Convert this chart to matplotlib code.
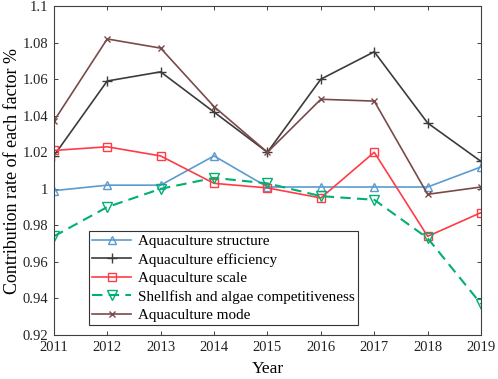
import matplotlib
matplotlib.use("Agg")
import matplotlib.pyplot as plt

# ---------------------------------------------------------------------------
# Data
# ---------------------------------------------------------------------------
years = [2011, 2012, 2013, 2014, 2015, 2016, 2017, 2018, 2019]
structure = [0.999, 1.002, 1.002, 1.018, 1.001, 1.001, 1.001, 1.001, 1.012]
efficiency = [1.018, 1.059, 1.064, 1.042, 1.020, 1.060, 1.075, 1.036, 1.015]
scale = [1.021, 1.023, 1.018, 1.003, 1.0005, 0.995, 1.020, 0.974, 0.987]
shellfish = [0.974, 0.990, 1.000, 1.006, 1.003, 0.996, 0.994, 0.973, 0.937]
mode = [1.037, 1.082, 1.077, 1.045, 1.020, 1.049, 1.048, 0.997, 1.001]

labels = ["Aquaculture structure", "Aquaculture efficiency", "Aquaculture scale",
          "Shellfish and algae competitiveness", "Aquaculture mode"]
yticks = [0.92, 0.94, 0.96, 0.98, 1.0, 1.02, 1.04, 1.06, 1.08, 1.1]
ytick_labels = ["0.92", "0.94", "0.96", "0.98", "1", "1.02", "1.04", "1.06", "1.08", "1.1"]

# Colours
BLUE = "#5b9bcf"
DARK = "#3c3c3c"
RED = "#ff3c46"
GREEN = "#00b070"
BROWN = "#7a4a4a"

plt.rcParams.update({
    "font.family": ["Liberation Serif", "DejaVu Serif"],
    "font.size": 10.5,
    "xtick.direction": "in",
    "ytick.direction": "in",
    "xtick.top": True,
    "ytick.right": True,
    "axes.edgecolor": "#404040",
    "axes.linewidth": 0.8,
})

fig = plt.figure(figsize=(4.98, 3.79), dpi=100)
ax = fig.add_axes([0.108, 0.116, 0.858, 0.868])

ax.plot(years, structure, color=BLUE, marker="^", mfc="none", ms=6, lw=1.2, label=labels[0])
ax.plot(years, efficiency, color=DARK, marker="+", ms=7, lw=1.2, label=labels[1])
ax.plot(years, scale, color=RED, marker="s", mfc="none", ms=5.5, lw=1.2, label=labels[2])
ax.plot(years, shellfish, color=GREEN, marker="v", mfc="none", ms=6.5, lw=1.5,
        ls=(0, (5, 3)), label=labels[3])
ax.plot(years, mode, color=BROWN, marker="x", ms=5, lw=1.2, label=labels[4])

ax.set_xlim(2011, 2019)
ax.set_ylim(0.92, 1.1)
ax.set_xticks(years)
ax.set_yticks(yticks)
ax.set_yticklabels(ytick_labels)
ax.tick_params(length=3, width=0.6, colors="#222222", labelsize=10.5, pad=4)
ax.set_xlabel("Year", fontsize=12.5, labelpad=5)
ax.set_ylabel("Contribution rate of each factor %", fontsize=13, labelpad=1)

leg = ax.legend(loc="lower left", bbox_to_anchor=(0.082, 0.03), fancybox=False,
                edgecolor="#333333", framealpha=1, fontsize=10.9, borderpad=0.2,
                labelspacing=0.32, handlelength=2.6, handletextpad=0.45,
                borderaxespad=0)
leg.get_frame().set_linewidth(0.8)

fig.savefig("out.png", dpi=100)
